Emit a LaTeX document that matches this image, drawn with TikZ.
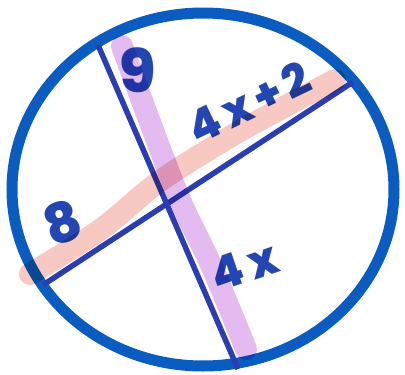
\documentclass[tikz,border=0pt]{standalone}
\usepackage{fontspec}
\setmainfont{Poppins}[BoldFont={Poppins ExtraBold}]
\usepackage{xcolor}
\usepackage{tikz}
\definecolor{ringblue}{HTML}{0A5CC0}
\definecolor{chordblue}{HTML}{2B3DB3}
\definecolor{inkblue}{HTML}{2446B2}
\definecolor{markpink}{HTML}{F8C8C2}
\definecolor{markviolet}{HTML}{E3BBF0}

\begin{document}
\begin{tikzpicture}[
    x=1pt, y=-1pt,
    ring/.style={
        draw=ringblue, line width=11pt,
    },
    chord/.style={
        draw=chordblue, line width=5.5pt,
    },
    marker/.style={
        line width=22pt, line cap=round, line join=round,
    },
    lbl/.style={
        text=inkblue, inner sep=0pt,
    },
]
\useasboundingbox (0,0) rectangle (405,375);
\draw[ring] (203,189.5) ellipse [x radius=191pt, y radius=176.5pt];

\coordinate (t1) at (98,45);
\coordinate (t2) at (238,369);
\coordinate (s1) at (43,285);
\coordinate (s2) at (353,82);
\draw[chord] (t1) -- (t2);
\draw[chord] (s1) -- (s2);

\node[lbl, font=\bfseries\fontsize{60}{60}\selectfont] (nine) at (138,70) {9};
\node[lbl, rotate=25.6, font=\bfseries\fontsize{45}{45}\selectfont\addfontfeature{LetterSpace=14}] (long) at (249,102) {4x+2};
\node[lbl, rotate=20, font=\bfseries\fontsize{55}{55}\selectfont] (eight) at (62,222) {8};
\node[lbl, rotate=19, font=\bfseries\fontsize{46}{46}\selectfont\addfontfeature{LetterSpace=16}] (short) at (244,266) {4x};

% highlighter strokes
\begin{scope}[blend mode=multiply]
\draw[marker, markpink] plot[smooth] coordinates {(30,274) (100,230) (160,181) (240,131) (335,80)};
\draw[marker, markviolet] plot[smooth] coordinates {(122,46) (148,117) (180,200) (212,267) (246,349)};
\end{scope}
\end{tikzpicture}
\end{document}
